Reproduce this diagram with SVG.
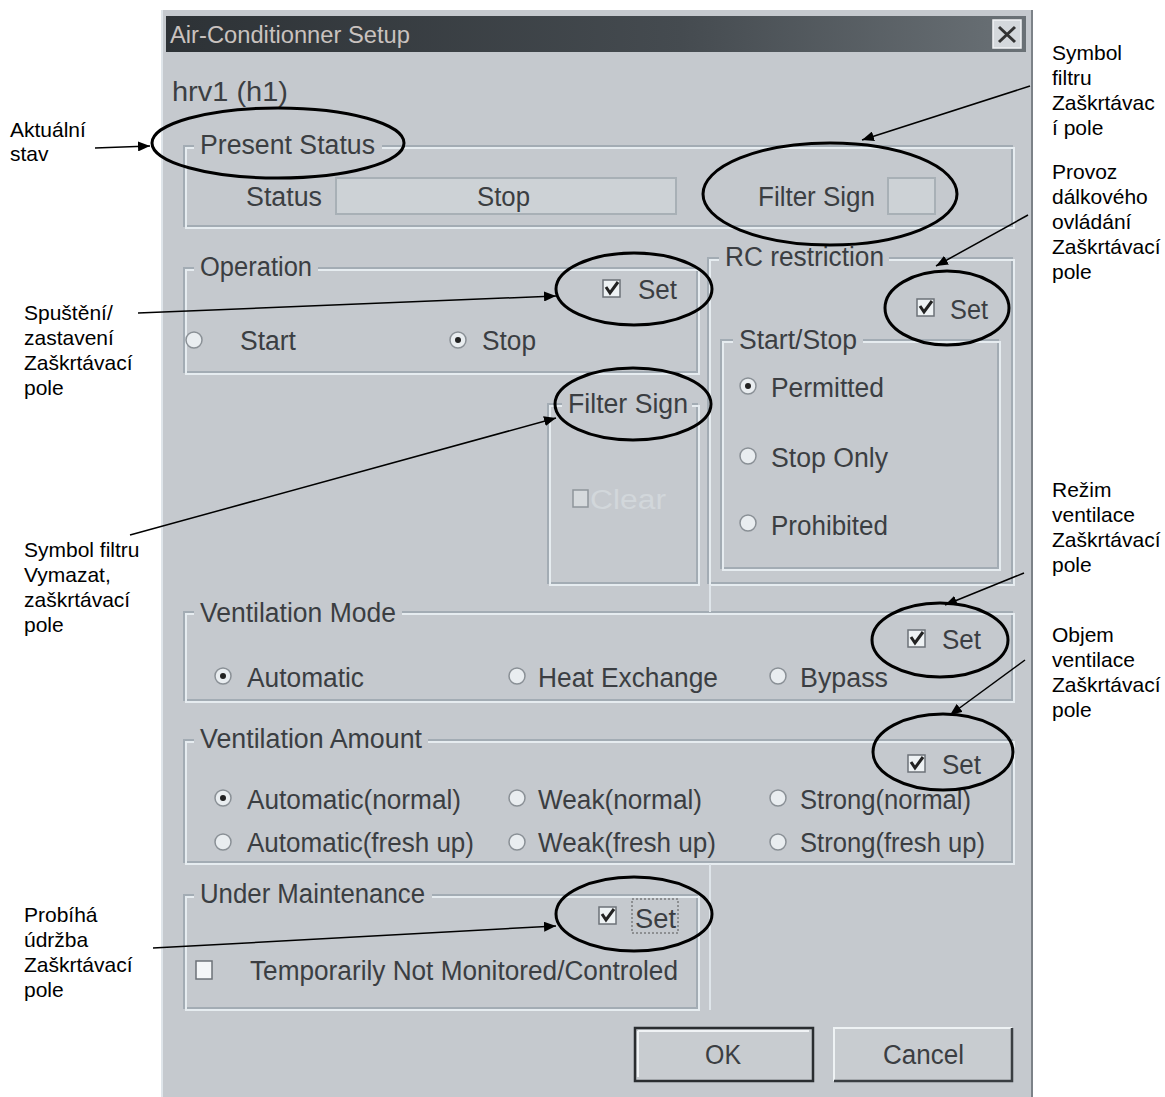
<svg xmlns="http://www.w3.org/2000/svg" width="1165" height="1097" viewBox="0 0 1165 1097">
<defs>
<linearGradient id="tb" x1="0" y1="0" x2="1" y2="0">
<stop offset="0" stop-color="#2d3236"/><stop offset="0.6" stop-color="#454b50"/><stop offset="1" stop-color="#6a7176"/>
</linearGradient>
<marker id="ah" viewBox="0 0 12 10" refX="12" refY="5" markerWidth="12" markerHeight="10" markerUnits="userSpaceOnUse" orient="auto">
<path d="M0,0 L12,5 L0,10 Z" fill="#000"/>
</marker>
</defs>
<style>
.ann{font-family:"Liberation Sans",Arial,sans-serif;font-size:21px;fill:#000}
.dt{font-family:"Liberation Sans",Arial,sans-serif;font-size:27px;fill:#3b3e42}
.g1{fill:none;stroke:#a3acb4;stroke-width:2}
.g2{fill:none;stroke:#e6ecf0;stroke-width:2}
.lbg{fill:#c5c9ce}
.rad{fill:#e9edf0;stroke:#8a9096;stroke-width:1.5}
.dot{fill:#222}
.cb{fill:#eef2f4;stroke:#6c7278;stroke-width:1.5}
.ck{fill:none;stroke:#222;stroke-width:3}
.ell{fill:none;stroke:#000;stroke-width:3}
.con{stroke:#000;stroke-width:1.5;fill:none;marker-end:url(#ah)}
</style>
<rect x="0" y="0" width="1165" height="1097" fill="#ffffff"/>
<g id="dialog">
<rect x="161" y="10" width="872" height="1087" fill="#c5c9ce"/>
<line x1="1032" y1="10" x2="1032" y2="1097" stroke="#7c8288" stroke-width="2"/>
<line x1="162" y1="10" x2="162" y2="1097" stroke="#dfe5ea" stroke-width="2"/>
<rect x="166" y="16" width="860" height="36" fill="url(#tb)"/>
<text x="170" y="43" font-family="Liberation Sans, Arial, sans-serif" font-size="23" fill="#c9c2bf" textLength="240" lengthAdjust="spacingAndGlyphs">Air-Conditionner Setup</text>
<rect x="993" y="20" width="28" height="28" fill="#d4d8dc" stroke="#f2f4f6" stroke-width="1.5"/>
<path d="M999,27 L1015,42 M1015,27 L999,42" stroke="#333" stroke-width="3"/>
<text class="dt" x="172" y="101" font-size="25" textLength="116" lengthAdjust="spacingAndGlyphs">hrv1  (h1)</text>
</g>
<g id="present-status">
<rect class="g1" x="184" y="146" width="828" height="80"/>
<rect class="g2" x="186" y="148" width="828" height="80"/>
<rect class="lbg" x="194" y="134" width="188" height="26"/>
<text class="dt" x="200" y="154" textLength="175" lengthAdjust="spacingAndGlyphs">Present Status</text>
<text class="dt" x="246" y="206" textLength="76" lengthAdjust="spacingAndGlyphs">Status</text>
<rect x="336" y="178" width="340" height="36" fill="#cdd2d6" stroke="#a8b0b6" stroke-width="2"/>
<text class="dt" x="477" y="206" textLength="53" lengthAdjust="spacingAndGlyphs">Stop</text>
<text class="dt" x="758" y="206" textLength="117" lengthAdjust="spacingAndGlyphs">Filter Sign</text>
<rect x="888" y="178" width="47" height="36" fill="#cdd2d6" stroke="#a8b0b6" stroke-width="2"/>
</g>
<g id="operation">
<rect class="g1" x="184" y="268" width="513" height="104"/>
<rect class="g2" x="186" y="270" width="513" height="104"/>
<rect class="lbg" x="194" y="256" width="124" height="26"/>
<text class="dt" x="200" y="276" textLength="112" lengthAdjust="spacingAndGlyphs">Operation</text>
<rect class="cb" x="603" y="280" width="17" height="17"/>
<path class="ck" d="M606,287 L610,293 L618,282"/>
<text class="dt" x="638" y="299" textLength="39" lengthAdjust="spacingAndGlyphs">Set</text>
<circle class="rad" cx="194" cy="340" r="8"/>
<text class="dt" x="240" y="350" textLength="56" lengthAdjust="spacingAndGlyphs">Start</text>
<circle class="rad" cx="458" cy="340" r="8"/>
<circle class="dot" cx="458" cy="340" r="3"/>
<text class="dt" x="482" y="350" textLength="54" lengthAdjust="spacingAndGlyphs">Stop</text>
</g>
<g id="filter-sign">
<rect class="g1" x="548" y="404" width="149" height="179"/>
<rect class="g2" x="550" y="406" width="149" height="179"/>
<rect class="lbg" x="562" y="390" width="130" height="26"/>
<text class="dt" x="568" y="413" textLength="120" lengthAdjust="spacingAndGlyphs">Filter Sign</text>
<rect x="573" y="490" width="15" height="17" fill="#d6dadd" stroke="#8e959b" stroke-width="1.5"/>
<text class="dt" x="590" y="509" style="fill:#d2d7db" textLength="76" lengthAdjust="spacingAndGlyphs">Clear</text>
</g>
<g id="rc-restriction">
<rect class="g1" x="708" y="258" width="304" height="325"/>
<rect class="g2" x="710" y="260" width="304" height="325"/>
<rect class="lbg" x="719" y="246" width="170" height="26"/>
<text class="dt" x="725" y="266" textLength="159" lengthAdjust="spacingAndGlyphs">RC restriction</text>
<rect class="cb" x="917" y="299" width="17" height="17"/>
<path class="ck" d="M920,306 L924,312 L932,301"/>
<text class="dt" x="950" y="319" textLength="38" lengthAdjust="spacingAndGlyphs">Set</text>
<rect class="g1" x="721" y="340" width="277" height="228"/>
<rect class="g2" x="723" y="342" width="277" height="228"/>
<rect class="lbg" x="733" y="326" width="130" height="26"/>
<text class="dt" x="739" y="349" textLength="118" lengthAdjust="spacingAndGlyphs">Start/Stop</text>
<circle class="rad" cx="748" cy="386" r="8"/>
<circle class="dot" cx="748" cy="386" r="3"/>
<text class="dt" x="771" y="397" textLength="113" lengthAdjust="spacingAndGlyphs">Permitted</text>
<circle class="rad" cx="748" cy="456" r="8"/>
<text class="dt" x="771" y="467" textLength="117" lengthAdjust="spacingAndGlyphs">Stop Only</text>
<circle class="rad" cx="748" cy="523" r="8"/>
<text class="dt" x="771" y="535" textLength="117" lengthAdjust="spacingAndGlyphs">Prohibited</text>
</g>
<g id="ventilation-mode">
<rect class="g1" x="184" y="612" width="828" height="88"/>
<rect class="g2" x="186" y="614" width="828" height="88"/>
<rect class="lbg" x="194" y="600" width="208" height="26"/>
<text class="dt" x="200" y="622" textLength="196" lengthAdjust="spacingAndGlyphs">Ventilation Mode</text>
<rect class="cb" x="908" y="630" width="17" height="17"/>
<path class="ck" d="M911,637 L915,643 L923,632"/>
<text class="dt" x="942" y="649" textLength="39" lengthAdjust="spacingAndGlyphs">Set</text>
<circle class="rad" cx="223" cy="676" r="8"/>
<circle class="dot" cx="223" cy="676" r="3"/>
<text class="dt" x="247" y="687" textLength="117" lengthAdjust="spacingAndGlyphs">Automatic</text>
<circle class="rad" cx="517" cy="676" r="8"/>
<text class="dt" x="538" y="687" textLength="180" lengthAdjust="spacingAndGlyphs">Heat Exchange</text>
<circle class="rad" cx="778" cy="676" r="8"/>
<text class="dt" x="800" y="687" textLength="88" lengthAdjust="spacingAndGlyphs">Bypass</text>
</g>
<g id="ventilation-amount">
<rect class="g1" x="184" y="740" width="828" height="122"/>
<rect class="g2" x="186" y="742" width="828" height="122"/>
<rect class="lbg" x="194" y="726" width="234" height="26"/>
<text class="dt" x="200" y="748" textLength="222" lengthAdjust="spacingAndGlyphs">Ventilation Amount</text>
<rect class="cb" x="908" y="755" width="17" height="17"/>
<path class="ck" d="M911,762 L915,768 L923,757"/>
<text class="dt" x="942" y="774" textLength="39" lengthAdjust="spacingAndGlyphs">Set</text>
<circle class="rad" cx="223" cy="798" r="8"/>
<circle class="dot" cx="223" cy="798" r="3"/>
<text class="dt" x="247" y="809" textLength="214" lengthAdjust="spacingAndGlyphs">Automatic(normal)</text>
<circle class="rad" cx="517" cy="798" r="8"/>
<text class="dt" x="538" y="809" textLength="164" lengthAdjust="spacingAndGlyphs">Weak(normal)</text>
<circle class="rad" cx="778" cy="798" r="8"/>
<text class="dt" x="800" y="809" textLength="171" lengthAdjust="spacingAndGlyphs">Strong(normal)</text>
<circle class="rad" cx="223" cy="842" r="8"/>
<text class="dt" x="247" y="852" textLength="227" lengthAdjust="spacingAndGlyphs">Automatic(fresh up)</text>
<circle class="rad" cx="517" cy="842" r="8"/>
<text class="dt" x="538" y="852" textLength="178" lengthAdjust="spacingAndGlyphs">Weak(fresh up)</text>
<circle class="rad" cx="778" cy="842" r="8"/>
<text class="dt" x="800" y="852" textLength="185" lengthAdjust="spacingAndGlyphs">Strong(fresh up)</text>
</g>
<g id="under-maintenance">
<rect class="g1" x="184" y="895" width="513" height="113"/>
<rect class="g2" x="186" y="897" width="513" height="113"/>
<line x1="710" y1="864" x2="710" y2="1010" stroke="#dfe5ea" stroke-width="2"/>
<line x1="710" y1="585" x2="710" y2="612" stroke="#dfe5ea" stroke-width="2"/>
<rect class="lbg" x="194" y="881" width="238" height="26"/>
<text class="dt" x="200" y="903" textLength="225" lengthAdjust="spacingAndGlyphs">Under Maintenance</text>
<rect class="cb" x="599" y="907" width="17" height="17"/>
<path class="ck" d="M602,914 L606,920 L614,909"/>
<rect x="632" y="899" width="46" height="34" fill="none" stroke="#555" stroke-width="1" stroke-dasharray="2,2"/>
<text class="dt" x="635" y="928" textLength="41" lengthAdjust="spacingAndGlyphs">Set</text>
<rect x="196" y="961" width="16" height="18" fill="#f4f6f8" stroke="#6c7278" stroke-width="1.5"/>
<text class="dt" x="250" y="980" textLength="428" lengthAdjust="spacingAndGlyphs">Temporarily Not Monitored/Controled</text>
</g>
<g id="ok-button">
<rect x="635" y="1028" width="178" height="53" fill="#c8ccd0" stroke="#2a2d30" stroke-width="2.5"/>
<line x1="638" y1="1031" x2="809" y2="1031" stroke="#f0f3f5" stroke-width="2"/>
<line x1="638" y1="1031" x2="638" y2="1077" stroke="#f0f3f5" stroke-width="2"/>
<text class="dt" x="705" y="1064" textLength="36" lengthAdjust="spacingAndGlyphs">OK</text>
</g>
<g id="cancel-button">
<rect x="834" y="1028" width="178" height="53" fill="#c8ccd0"/>
<path d="M834,1081 L834,1028 L1012,1028" fill="none" stroke="#eef2f4" stroke-width="2"/>
<path d="M834,1081 L1012,1081 L1012,1028" fill="none" stroke="#3a3e42" stroke-width="2.5"/>
<text class="dt" x="883" y="1064" textLength="81" lengthAdjust="spacingAndGlyphs">Cancel</text>
</g>
<g id="highlights">
<ellipse class="ell" cx="278" cy="143" rx="126" ry="35"/>
<ellipse class="ell" cx="830" cy="194" rx="127" ry="51"/>
<ellipse class="ell" cx="634" cy="289" rx="78" ry="36"/>
<ellipse class="ell" cx="947" cy="308" rx="62" ry="37"/>
<ellipse class="ell" cx="633" cy="404" rx="78" ry="36"/>
<ellipse class="ell" cx="940" cy="640" rx="68" ry="37"/>
<ellipse class="ell" cx="943" cy="752" rx="70" ry="38"/>
<ellipse class="ell" cx="634" cy="914" rx="78" ry="37"/>
</g>
<g id="labels">
<text class="ann" x="10" y="137">Aktuální</text>
<text class="ann" x="10" y="161">stav</text>
<text class="ann" x="24" y="320">Spuštění/</text>
<text class="ann" x="24" y="345">zastavení</text>
<text class="ann" x="24" y="370">Zaškrtávací</text>
<text class="ann" x="24" y="395">pole</text>
<text class="ann" x="24" y="557">Symbol filtru</text>
<text class="ann" x="24" y="582">Vymazat,</text>
<text class="ann" x="24" y="607">zaškrtávací</text>
<text class="ann" x="24" y="632">pole</text>
<text class="ann" x="24" y="922">Probíhá</text>
<text class="ann" x="24" y="947">údržba</text>
<text class="ann" x="24" y="972">Zaškrtávací</text>
<text class="ann" x="24" y="997">pole</text>
<text class="ann" x="1052" y="60">Symbol</text>
<text class="ann" x="1052" y="85">filtru</text>
<text class="ann" x="1052" y="110">Zaškrtávac</text>
<text class="ann" x="1052" y="135">í pole</text>
<text class="ann" x="1052" y="179">Provoz</text>
<text class="ann" x="1052" y="204">dálkového</text>
<text class="ann" x="1052" y="229">ovládání</text>
<text class="ann" x="1052" y="254">Zaškrtávací</text>
<text class="ann" x="1052" y="279">pole</text>
<text class="ann" x="1052" y="497">Režim</text>
<text class="ann" x="1052" y="522">ventilace</text>
<text class="ann" x="1052" y="547">Zaškrtávací</text>
<text class="ann" x="1052" y="572">pole</text>
<text class="ann" x="1052" y="642">Objem</text>
<text class="ann" x="1052" y="667">ventilace</text>
<text class="ann" x="1052" y="692">Zaškrtávací</text>
<text class="ann" x="1052" y="717">pole</text>
</g>
<g id="connectors">
<line class="con" x1="95" y1="148" x2="150" y2="146"/>
<line class="con" x1="138" y1="313" x2="556" y2="296"/>
<line class="con" x1="130" y1="535" x2="556" y2="418"/>
<line class="con" x1="153" y1="948" x2="556" y2="926"/>
<line class="con" x1="1030" y1="86" x2="862" y2="140"/>
<line class="con" x1="1028" y1="215" x2="936" y2="266"/>
<line class="con" x1="1024" y1="573" x2="945" y2="605"/>
<line class="con" x1="1025" y1="660" x2="950" y2="715"/>
</g>
</svg>
